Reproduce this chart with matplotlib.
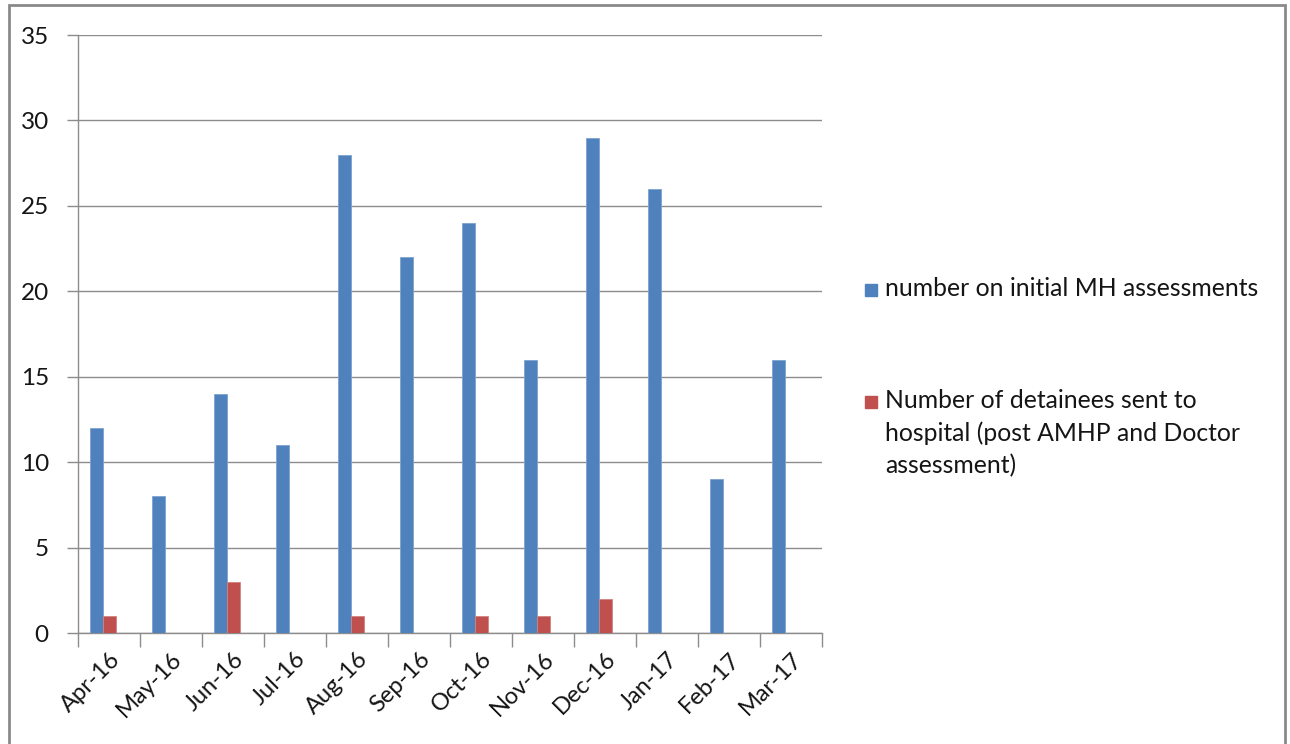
import matplotlib
matplotlib.use("Agg")
import matplotlib.pyplot as plt
from matplotlib.patches import Rectangle
import numpy as np

months = ["Apr-16", "May-16", "Jun-16", "Jul-16", "Aug-16", "Sep-16",
          "Oct-16", "Nov-16", "Dec-16", "Jan-17", "Feb-17", "Mar-17"]
assessments = [12, 8, 14, 11, 28, 22, 24, 16, 29, 26, 9, 16]
sent_to_hospital = [1, 0, 3, 0, 1, 0, 1, 1, 2, 0, 0, 0]

label_assess = "number on initial MH assessments"
label_hospital = "Number of detainees sent to\nhospital (post AMHP and Doctor\nassessment)"

BLUE = "#4F81BD"
RED = "#C0504D"
GRID = "#8C8C8C"
TXT = "#151515"
FONT = ["Lato", "DejaVu Sans"]

plt.rcParams["font.family"] = FONT

W, H = 1290, 744
fig = plt.figure(figsize=(W / 100, H / 100), dpi=100)

# outer chart-area frame
fig.patches.append(Rectangle((9 / W, -0.05), (1285 - 9) / W, 1.05 - 5 / H,
                             transform=fig.transFigure, fill=False,
                             edgecolor="#8A8A8A", linewidth=2))

ax = fig.add_axes([78 / W, 111 / H, (822 - 78) / W, (709 - 111) / H])

x = np.arange(len(months))
w = 0.212
ax.bar(x - w * 0.5 - 0.1, assessments, width=w, color=BLUE,
       edgecolor="#7EA3D0", linewidth=0.6, zorder=3)
ax.bar(x + w * 0.5 - 0.1, sent_to_hospital, width=w, color=RED,
       edgecolor="#D08481", linewidth=0.6, zorder=3)

ax.set_xlim(-0.5, len(months) - 0.5)
ax.set_ylim(0, 35)
ax.set_yticks(range(0, 36, 5))
ax.yaxis.grid(True, color=GRID, linewidth=1)
ax.set_axisbelow(True)

ax.set_xticks(x)
ax.set_xticklabels(months, rotation=45, ha="right", rotation_mode="anchor",
                   fontsize=17, color=TXT)
ax.set_xticks(np.arange(-0.5, len(months), 1), minor=True)
ax.tick_params(axis="x", which="major", length=0, pad=11)
ax.tick_params(axis="x", which="minor", length=10, width=1, color=GRID)
ax.tick_params(axis="y", length=8, width=1, color=GRID, labelsize=17.5,
               labelcolor=TXT, pad=13)

for s in ("top", "right"):
    ax.spines[s].set_visible(False)
for s in ("left", "bottom"):
    ax.spines[s].set_color(GRID)
    ax.spines[s].set_linewidth(1)

# legend entries
LFS = 17.8
fig.patches.append(Rectangle((865 / W, 1 - 296 / H), 12 / W, 12 / H,
                             transform=fig.transFigure, color=BLUE))
fig.text(885 / W, 1 - 289 / H, label_assess, fontsize=LFS, va="center",
         ha="left", color=TXT)
fig.patches.append(Rectangle((865 / W, 1 - 408 / H), 12 / W, 12 / H,
                             transform=fig.transFigure, color=RED))
fig.text(885 / W, 1 - 389 / H, label_hospital, fontsize=LFS, va="top",
         ha="left", linespacing=1.47, color=TXT)

fig.savefig("out.png", dpi=100)
